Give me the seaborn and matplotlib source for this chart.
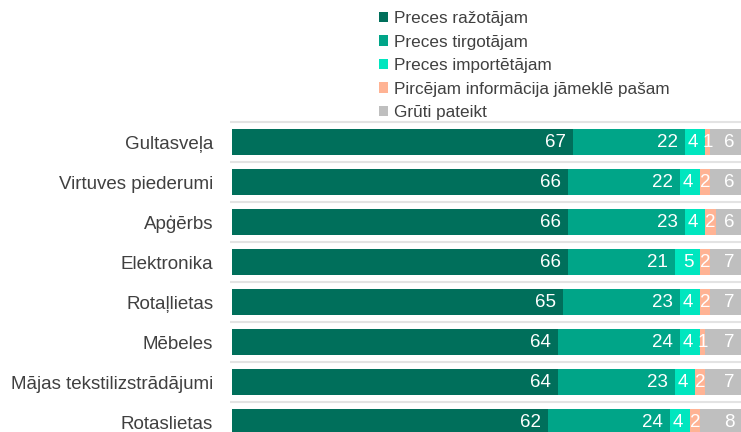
import pandas as pd
import seaborn as sns
import matplotlib.pyplot as plt
from matplotlib.patches import Patch

categories = ["Gultasveļa", "Virtuves piederumi", "Apģērbs", "Elektronika",
              "Rotaļlietas", "Mēbeles", "Mājas tekstilizstrādājumi", "Rotaslietas"]
series_names = ["Preces ražotājam", "Preces tirgotājam", "Preces importētājam",
                "Pircējam informācija jāmeklē pašam", "Grūti pateikt"]
razotajam = [67, 66, 66, 66, 65, 64, 64, 62]
tirgotajam = [22, 22, 23, 21, 23, 24, 23, 24]
importetajam = [4, 4, 4, 5, 4, 4, 4, 4]
pircejam = [1, 2, 2, 2, 2, 1, 2, 2]
gruti = [6, 6, 6, 7, 7, 7, 7, 8]
colors = ["#006F5B", "#00A588", "#00E6BF", "#FFB394", "#BFBFBF"]

df = pd.DataFrame({"kategorija": categories})
for name, vals in zip(series_names, [razotajam, tirgotajam, importetajam, pircejam, gruti]):
    df[name] = vals

# cumulative sums -> stacked bars drawn back to front
cum = df[series_names].cumsum(axis=1)
cum["kategorija"] = df["kategorija"]

sns.set_theme(style="white")
plt.rcParams["font.family"] = ["Liberation Sans", "DejaVu Sans"]
text_col = "#404040"

fig = plt.figure(figsize=(7.41, 4.32), dpi=100)
ax = fig.add_axes([232 / 741, 0, 1 - 232 / 741, 1 - 121 / 432])

for name, color in reversed(list(zip(series_names, colors))):
    sns.barplot(data=cum, x=name, y="kategorija", color=color, saturation=1,
                width=0.65, linewidth=0, ax=ax, zorder=2)

n = len(categories)
ax.hlines([i - 0.5 for i in range(n + 1)], -0.4, 100, color="#E3E3E3", lw=1.5, zorder=0,
          clip_on=False)

ax.set_xlim(0, 100)
ax.set_ylim(7.25, -0.525)
ax.set_xlabel("")
ax.set_ylabel("")
ax.set_xticks([])
ax.tick_params(axis="y", length=0, pad=13.5, labelsize=13.5, labelcolor=text_col)
sns.despine(ax=ax, left=True, bottom=True, top=True, right=True)

# value labels
for i in range(n):
    start = 0
    for name in series_names:
        v = df.loc[i, name]
        end = start + v
        if v > 2:
            ax.text(min(end, 100) - 1.35, i, str(v), ha="right", va="center",
                    color="white", fontsize=13.5, zorder=3)
        else:
            ax.text((start + end) / 2, i, str(v), ha="center", va="center",
                    color="white", fontsize=13.5, zorder=3)
        start = end

handles = [Patch(facecolor=c, edgecolor="none", label=s) for s, c in zip(series_names, colors)]
fig.legend(handles=handles, loc="upper left", bbox_to_anchor=(379 / 741, 1 - 11 / 432),
           frameon=False, fontsize=12.3, handlelength=0.55, handleheight=0.55,
           handletextpad=0.35, labelspacing=0.5, borderpad=0, borderaxespad=0,
           labelcolor=text_col)

fig.savefig("out.png", dpi=100)
